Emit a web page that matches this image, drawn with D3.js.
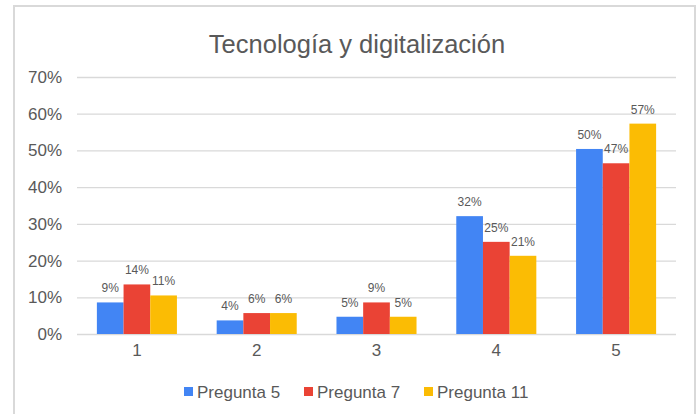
<!DOCTYPE html>
<html>
<head>
<meta charset="utf-8">
<script src="https://cdn.jsdelivr.net/npm/d3@7"></script>
<style>
  body { margin: 0; background: #fff; }
  text { font-family: "Liberation Sans", Arial, sans-serif; }
</style>
</head>
<body>
<div id="chart"></div>
<script>
// data
const categories = ["1", "2", "3", "4", "5"];
const seriesNames = ["Pregunta 5", "Pregunta 7", "Pregunta 11"];
const pregunta5 = [0.086, 0.037, 0.047, 0.321, 0.504];
const pregunta7 = [0.135, 0.057, 0.086, 0.251, 0.465];
const pregunta11 = [0.105, 0.057, 0.047, 0.213, 0.573];
const labels5 = ["9%", "4%", "5%", "32%", "50%"];
const labels7 = ["14%", "6%", "9%", "25%", "47%"];
const labels11 = ["11%", "6%", "5%", "21%", "57%"];
const yTicks = [0, 0.1, 0.2, 0.3, 0.4, 0.5, 0.6, 0.7];
const colors = ["#4285F4", "#EA4335", "#FBBC04"];

const W = 698, H = 414;
const svg = d3.select("#chart").append("svg")
  .attr("width", W).attr("height", H);

// chart frame (no bottom edge visible)
svg.append("path")
  .attr("d", `M14,${H} L14,6 L695,6 L695,${H}`)
  .attr("fill", "none")
  .attr("stroke", "#d9d9d9")
  .attr("stroke-width", 2);

svg.append("text")
  .attr("x", 357).attr("y", 53)
  .attr("text-anchor", "middle")
  .attr("font-size", 25.5)
  .attr("fill", "#595959")
  .text("Tecnología y digitalización");

const plotL = 77, plotR = 676, plotT = 77, plotB = 334;

const y = d3.scaleLinear().domain([0, 0.7]).range([plotB, plotT]);
const x = d3.scaleBand().domain(categories).range([plotL, plotR]);
const inner = d3.scaleBand().domain(seriesNames)
  .range([0, x.bandwidth()]).paddingOuter(0.745);

// gridlines + y labels
const yAxis = svg.append("g").attr("transform", `translate(${plotL},0)`)
  .call(d3.axisLeft(y).tickValues(yTicks).tickFormat(d3.format(".0%"))
    .tickSize(-(plotR - plotL)).tickPadding(15));
yAxis.select(".domain").remove();
yAxis.selectAll(".tick line").attr("stroke", "#d9d9d9").attr("stroke-width", 1.3);
yAxis.selectAll(".tick text").attr("font-size", 17).attr("fill", "#595959")
  .attr("font-family", "Liberation Sans, Arial, sans-serif");

// x labels
const xAxis = svg.append("g").attr("transform", `translate(0,${plotB})`)
  .call(d3.axisBottom(x).tickSize(0).tickPadding(10));
xAxis.select(".domain").remove();
xAxis.selectAll(".tick text").attr("font-size", 17).attr("fill", "#595959")
  .attr("font-family", "Liberation Sans, Arial, sans-serif");

const series = [
  { name: seriesNames[0], values: pregunta5, labels: labels5 },
  { name: seriesNames[1], values: pregunta7, labels: labels7 },
  { name: seriesNames[2], values: pregunta11, labels: labels11 }
];

series.forEach((s, si) => {
  const g = svg.append("g");
  const rows = categories.map((c, i) => ({ c, v: s.values[i], l: s.labels[i] }));
  g.selectAll("rect").data(rows).join("rect")
    .attr("x", d => x(d.c) + inner(s.name))
    .attr("y", d => y(d.v))
    .attr("width", inner.bandwidth())
    .attr("height", d => plotB - y(d.v))
    .attr("fill", colors[si]);
  g.selectAll("text").data(rows).join("text")
    .attr("x", d => x(d.c) + inner(s.name) + inner.bandwidth() / 2)
    .attr("y", d => y(d.v) - 10)
    .attr("text-anchor", "middle")
    .attr("font-size", 12)
    .attr("fill", "#595959")
    .text(d => d.l);
});

// legend
const legendX = [184, 304, 424];
const leg = svg.append("g");
seriesNames.forEach((n, i) => {
  leg.append("rect")
    .attr("x", legendX[i]).attr("y", 387)
    .attr("width", 9).attr("height", 9)
    .attr("fill", colors[i]);
  leg.append("text")
    .attr("x", legendX[i] + 13).attr("y", 397.5)
    .attr("font-size", 17).attr("fill", "#595959")
    .text(n);
});
</script>
</body>
</html>
